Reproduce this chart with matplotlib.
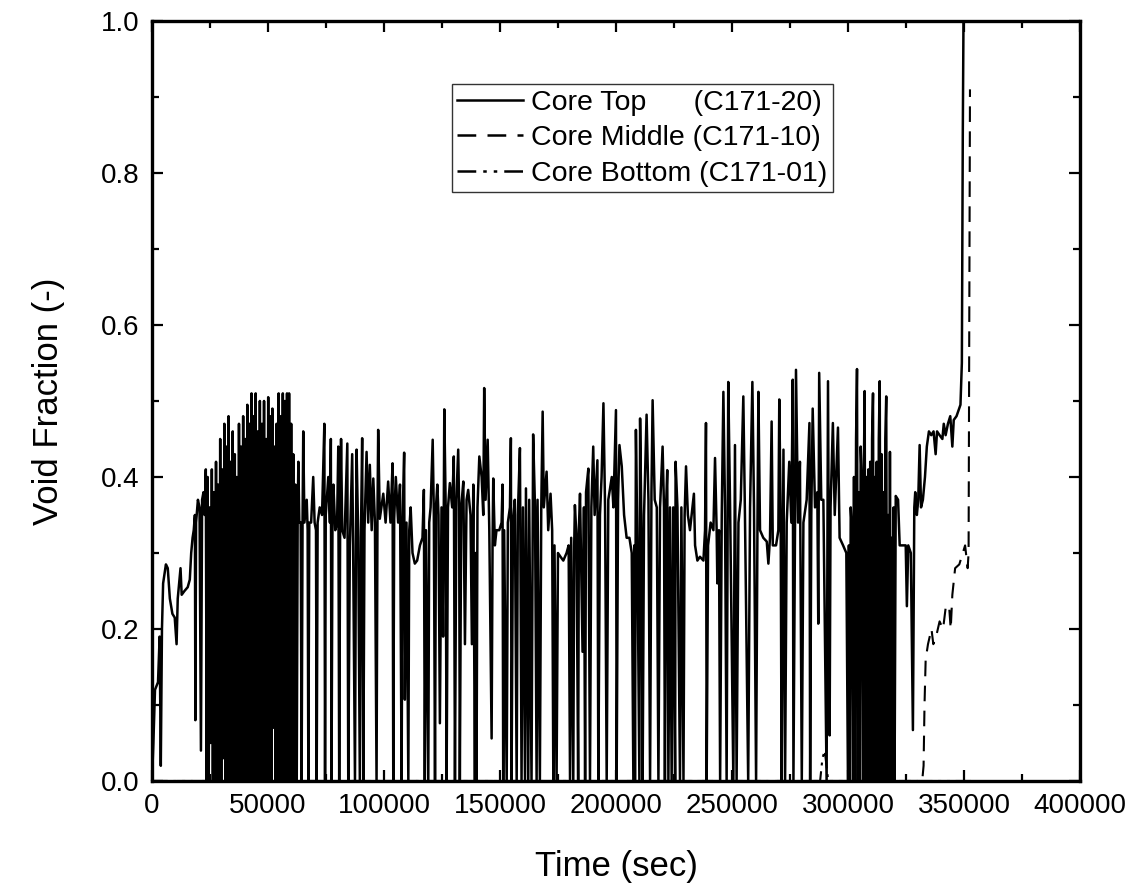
import matplotlib
matplotlib.use("Agg")
import matplotlib.pyplot as plt
from matplotlib.ticker import MultipleLocator

plt.rcParams['font.family'] = ['Liberation Sans', 'DejaVu Sans']

# Core Top (C171-20): (time s, void fraction)
top_start = [(0, 0.0), (600, 0.05), (1300, 0.12), (2600, 0.13), (3300, 0.19), (3800, 0.02),
             (4300, 0.20), (4800, 0.26), (6000, 0.285), (6800, 0.28), (7700, 0.24), (8800, 0.22),
             (9800, 0.215), (10600, 0.18), (11100, 0.24), (12300, 0.28), (12800, 0.245),
             (14000, 0.25), (15400, 0.255), (16300, 0.265), (16900, 0.30), (17500, 0.32),
             (18000, 0.33), (18500, 0.35), (18700, 0.08), (19000, 0.34), (19800, 0.37),
             (20500, 0.36), (21100, 0.04), (21600, 0.37), (22200, 0.38), (22700, 0.35),
             (23200, 0.41), (23600, 0.0)]

top_dense = [(24000, 0.40), (24450, 0.0), (24900, 0.36), (25350, 0.05), (25800, 0.41), (26250, 0.0),
             (26700, 0.38), (27150, 0.0), (27600, 0.42), (28050, 0.0), (28500, 0.39), (28950, 0.0),
             (29400, 0.45), (29850, 0.0), (30300, 0.41), (30750, 0.03), (31200, 0.47), (31650, 0.0),
             (32100, 0.44), (32550, 0.0), (33000, 0.48), (33450, 0.0), (33900, 0.42), (34350, 0.0),
             (34800, 0.46), (35250, 0.0), (35700, 0.43), (36150, 0.0), (36600, 0.40), (37050, 0.0),
             (37500, 0.47), (37950, 0.0), (38400, 0.44), (38850, 0.0), (39300, 0.48), (39750, 0.0),
             (40200, 0.45), (40650, 0.0), (41100, 0.495), (41550, 0.0), (42000, 0.47), (42450, 0.0),
             (42900, 0.51), (43350, 0.0), (43800, 0.48), (44250, 0.0), (44700, 0.51), (45150, 0.0),
             (45600, 0.46), (46050, 0.0), (46500, 0.50), (46950, 0.0), (47400, 0.47), (47850, 0.0),
             (48300, 0.50), (48750, 0.0), (49200, 0.45), (49650, 0.0), (50100, 0.505), (50550, 0.0),
             (51000, 0.48), (51450, 0.0), (51900, 0.49), (52350, 0.07), (52800, 0.44), (53250, 0.0),
             (53700, 0.47), (54150, 0.0), (54600, 0.51), (55050, 0.0), (55500, 0.48), (55950, 0.0),
             (56400, 0.51), (56850, 0.0), (57300, 0.50), (57750, 0.0), (58200, 0.51), (58650, 0.0),
             (59100, 0.51), (59550, 0.0), (60000, 0.47), (60450, 0.0), (60900, 0.43), (61350, 0.0),
             (61800, 0.39)]

top_mid1 = [(62000, 0.37), (62400, 0.0), (62800, 0.35), (63100, 0.42), (63500, 0.34), (64100, 0.34),
            (64500, 0.0), (64900, 0.34), (65200, 0.46), (65700, 0.34), (66700, 0.37), (67100, 0.33),
            (67400, 0.0), (67800, 0.34), (68600, 0.34), (69500, 0.40), (70100, 0.34), (70700, 0.33),
            (71000, 0.0), (71400, 0.34), (72300, 0.36), (73300, 0.35), (74300, 0.47), (74600, 0.0),
            (74900, 0.35), (76000, 0.40), (76700, 0.34), (77100, 0.45), (77400, 0.0), (77800, 0.34),
            (78200, 0.39), (79000, 0.33), (79800, 0.34), (80300, 0.44), (80700, 0.0), (81100, 0.33),
            (81500, 0.45), (82000, 0.33), (83000, 0.32), (84200, 0.444), (84600, 0.0), (85300, 0.31),
            (86300, 0.43), (86700, 0.31), (87500, 0.0), (87900, 0.31), (88200, 0.436), (88900, 0.32),
            (89600, 0.0), (90100, 0.33), (90600, 0.451), (91100, 0.0), (91600, 0.33), (92500, 0.433),
            (93200, 0.34), (93900, 0.416), (94700, 0.33), (95400, 0.398), (96100, 0.34), (96800, 0.0),
            (97200, 0.35), (97500, 0.462), (98200, 0.345), (99700, 0.378), (100700, 0.34),
            (101800, 0.394), (102800, 0.34), (103700, 0.418), (104000, 0.0), (104400, 0.345),
            (105100, 0.40), (106100, 0.34), (106900, 0.39), (107600, 0.0), (108000, 0.34),
            (108700, 0.432), (109000, 0.107), (109700, 0.34), (110500, 0.0), (110900, 0.33),
            (111500, 0.36), (112300, 0.30), (113300, 0.286), (114300, 0.29), (115500, 0.31),
            (116600, 0.32), (117200, 0.383), (117600, 0.0), (118100, 0.33), (119100, 0.0),
            (119500, 0.34), (120100, 0.36), (121000, 0.449), (121500, 0.35), (122000, 0.0),
            (122400, 0.36), (123000, 0.39), (123500, 0.35), (124100, 0.076), (124800, 0.36),
            (125500, 0.19), (126000, 0.489), (126600, 0.36), (127000, 0.0), (127600, 0.36),
            (128400, 0.392), (129400, 0.36), (130100, 0.427), (130600, 0.0), (131200, 0.37),
            (132000, 0.436), (132400, 0.36), (132700, 0.0), (133300, 0.36), (134200, 0.394),
            (134900, 0.18), (135600, 0.37), (136300, 0.383), (137300, 0.35), (137900, 0.18),
            (138500, 0.39), (139200, 0.0), (139550, 0.30), (139900, 0.0), (140300, 0.36),
            (141100, 0.427), (142100, 0.40), (142800, 0.35), (143200, 0.517), (143800, 0.37),
            (144700, 0.449), (145400, 0.33), (146400, 0.056), (146800, 0.31), (147100, 0.398),
            (147800, 0.31), (148500, 0.33), (149700, 0.33), (150700, 0.34), (151100, 0.39),
            (151400, 0.0), (151800, 0.33), (152900, 0.0), (153400, 0.34), (154300, 0.36),
            (154700, 0.451), (155000, 0.0), (155600, 0.34), (156400, 0.37), (157200, 0.0),
            (157700, 0.35), (158600, 0.438), (159300, 0.0), (159900, 0.36), (160800, 0.0),
            (161200, 0.385), (162200, 0.0), (162600, 0.37), (163600, 0.0), (164300, 0.456),
            (165100, 0.36), (165800, 0.0), (166200, 0.37), (167200, 0.0), (167800, 0.36),
            (168400, 0.486), (168900, 0.36), (170100, 0.407), (170800, 0.33), (171800, 0.378),
            (172500, 0.33), (173000, 0.0), (173500, 0.31), (174400, 0.0), (175000, 0.30),
            (176100, 0.295), (177300, 0.29), (178700, 0.30), (179600, 0.31), (180200, 0.0),
            (180700, 0.32), (181600, 0.0), (182000, 0.31), (182300, 0.363), (183000, 0.32),
            (183700, 0.0), (184000, 0.33), (184500, 0.378)]

top_mid2 = [(185600, 0.17), (186200, 0.36), (186700, 0.0), (187100, 0.38), (188100, 0.411),
            (188800, 0.0), (189400, 0.36), (190200, 0.44), (190800, 0.35), (192000, 0.422),
            (192400, 0.0), (193100, 0.35), (193800, 0.40), (194600, 0.497), (195300, 0.36),
            (196000, 0.0), (196700, 0.37), (198200, 0.40), (198900, 0.36), (200000, 0.488),
            (200300, 0.0), (200900, 0.37), (201500, 0.442), (202500, 0.414), (203500, 0.35),
            (204600, 0.32), (205800, 0.32), (206800, 0.30), (207500, 0.0), (207900, 0.31),
            (208200, 0.0), (208600, 0.462), (209200, 0.32), (210100, 0.0), (210400, 0.477),
            (211000, 0.33), (211500, 0.0), (212100, 0.35), (213200, 0.482), (214000, 0.37),
            (214700, 0.0), (215300, 0.38), (215800, 0.501), (216700, 0.37), (217600, 0.36),
            (218300, 0.0), (219000, 0.36), (220100, 0.44), (220700, 0.36), (221100, 0.0),
            (221600, 0.36), (222100, 0.409), (222600, 0.0), (223300, 0.36), (224000, 0.0),
            (224700, 0.36), (225500, 0.0), (225700, 0.42), (226500, 0.36), (227600, 0.0),
            (228200, 0.36), (229100, 0.0), (229600, 0.35), (230200, 0.414), (231000, 0.35),
            (231900, 0.33), (233600, 0.378), (234100, 0.31), (235100, 0.29), (236200, 0.295),
            (237700, 0.29), (238400, 0.33), (238800, 0.471), (239100, 0.0), (239700, 0.31),
            (240800, 0.34), (242000, 0.33), (242700, 0.425), (243400, 0.33), (243700, 0.26),
            (244400, 0.33), (244900, 0.0), (245600, 0.35), (246300, 0.512), (247000, 0.36),
            (247700, 0.0), (248400, 0.525), (249200, 0.36), (250600, 0.0), (251300, 0.442),
            (252000, 0.0), (252800, 0.34), (253800, 0.37), (254900, 0.506), (255600, 0.35),
            (257000, 0.0), (257800, 0.36), (258800, 0.525), (259500, 0.36), (260400, 0.0),
            (261000, 0.34), (261400, 0.512), (262100, 0.33), (263500, 0.32), (265000, 0.315),
            (265700, 0.286), (266400, 0.32), (267100, 0.473), (267600, 0.31), (269000, 0.31),
            (270000, 0.33), (270400, 0.502), (271000, 0.35), (271400, 0.0), (272200, 0.436),
            (272900, 0.0), (273600, 0.34), (274700, 0.42), (275600, 0.34), (276200, 0.528),
            (276500, 0.0), (277600, 0.541), (278500, 0.34), (279300, 0.42), (280100, 0.0),
            (280800, 0.34), (282200, 0.37), (283400, 0.471), (283700, 0.0), (284200, 0.35),
            (284800, 0.49), (285800, 0.36), (286800, 0.38), (287200, 0.207), (287600, 0.537),
            (288500, 0.37), (289400, 0.37), (290800, 0.0), (291400, 0.526)]

top_late = [(292100, 0.06), (292500, 0.36), (293500, 0.471), (294300, 0.35), (295700, 0.465),
            (296400, 0.32), (297900, 0.31), (299300, 0.30), (300000, 0.0), (300400, 0.31),
            (300800, 0.0), (301200, 0.36), (301700, 0.33), (302200, 0.0), (302600, 0.40),
            (303000, 0.0), (303500, 0.45), (303900, 0.542), (304300, 0.0), (304700, 0.38),
            (305100, 0.0), (305500, 0.44), (305900, 0.40), (306500, 0.0), (306900, 0.42),
            (307200, 0.513), (307600, 0.0), (308000, 0.40), (308400, 0.0), (308800, 0.41),
            (309200, 0.0), (309600, 0.42), (310000, 0.0), (310400, 0.45), (310800, 0.51),
            (311200, 0.0), (311600, 0.40), (312000, 0.0), (312400, 0.42), (312900, 0.0),
            (313300, 0.45), (313700, 0.526), (314100, 0.0), (314500, 0.43), (314900, 0.0),
            (315300, 0.38), (315700, 0.0), (316100, 0.45), (316500, 0.506), (316900, 0.0),
            (317300, 0.35), (317700, 0.0), (318100, 0.433), (318500, 0.0), (318900, 0.32),
            (319300, 0.0), (319700, 0.36), (320100, 0.0), (320600, 0.375), (321600, 0.37),
            (322300, 0.31), (323700, 0.31), (324900, 0.31), (325400, 0.23), (326000, 0.31),
            (327100, 0.30), (328000, 0.067), (328600, 0.36), (329000, 0.38), (329700, 0.35),
            (330300, 0.37), (330900, 0.442), (331500, 0.36), (332300, 0.37), (333200, 0.40),
            (334000, 0.44), (334900, 0.46), (335900, 0.455), (336900, 0.46), (337800, 0.43),
            (338400, 0.46), (339500, 0.455), (340700, 0.45), (341300, 0.47), (342100, 0.455),
            (343100, 0.47), (344100, 0.48), (345000, 0.44), (345600, 0.475), (346800, 0.48),
            (347900, 0.49), (348500, 0.495), (349100, 0.55), (349500, 0.85), (349800, 1.0),
            (351000, 1.0)]

# Core Middle (C171-10)
mid_t = [0, 332000, 332600, 333000, 333500, 334500, 336000, 336800, 338000, 339500, 341000,
         342200, 343600, 344300, 345000, 346200, 348000, 349500, 350500, 351600, 352000, 352600]
mid_v = [0.0, 0.0, 0.02, 0.10, 0.16, 0.18, 0.20, 0.18, 0.19, 0.21, 0.20,
         0.23, 0.23, 0.20, 0.245, 0.28, 0.285, 0.30, 0.31, 0.28, 0.30, 0.91]

# Core Bottom (C171-01)
bot_t = [0, 288000, 289000, 290000, 291500, 353000]
bot_v = [0.0, 0.0, 0.03, 0.04, 0.0, 0.0]

top_pts = top_start + top_dense + top_mid1 + top_mid2 + top_late
top_t = [p[0] for p in top_pts]
top_v = [p[1] for p in top_pts]

fig = plt.figure(figsize=(11.3, 8.88), dpi=100)
ax = fig.add_axes([0.1345, 0.1205, 0.8212, 0.8559])

ax.plot(top_t, top_v, color='black', lw=1.8, label='Core Top      (C171-20)')
ax.plot(mid_t, mid_v, color='black', lw=1.5, dashes=(7.5, 4.5), snap=False,
        label='Core Middle (C171-10)')
ax.plot(bot_t, bot_v, color='black', lw=1.5, dashes=(7.5, 2.8, 1.4, 2.8, 1.4, 2.8), snap=False,
        label='Core Bottom (C171-01)')

ax.set_xlim(0, 400000)
ax.set_ylim(0, 1.0)
ax.xaxis.set_major_locator(MultipleLocator(50000))
ax.xaxis.set_minor_locator(MultipleLocator(25000))
ax.yaxis.set_major_locator(MultipleLocator(0.2))
ax.yaxis.set_minor_locator(MultipleLocator(0.1))
ax.yaxis.set_major_formatter(matplotlib.ticker.FormatStrFormatter('%.1f'))
ax.tick_params(which='both', direction='in', top=True, right=True, width=1.6, labelsize=20)
ax.tick_params(which='major', length=8, pad=9)
ax.tick_params(which='minor', length=5)
for s in ax.spines.values():
    s.set_linewidth(2.4)
    s.set_zorder(5)

ax.set_xlabel('Time (sec)', fontsize=25, labelpad=22)
ax.set_ylabel('Void Fraction (-)', fontsize=25, labelpad=26)

leg = ax.legend(loc='upper left', bbox_to_anchor=(0.323, 0.917), fontsize=20.5, frameon=True,
                fancybox=False, edgecolor='black', handlelength=2.3, handletextpad=0.3,
                labelspacing=0.33, borderpad=0.2, borderaxespad=0)
leg.get_frame().set_linewidth(1.0)
for h in leg.get_lines():
    h.set_linewidth(1.8)

fig.savefig('out.png', dpi=100)
